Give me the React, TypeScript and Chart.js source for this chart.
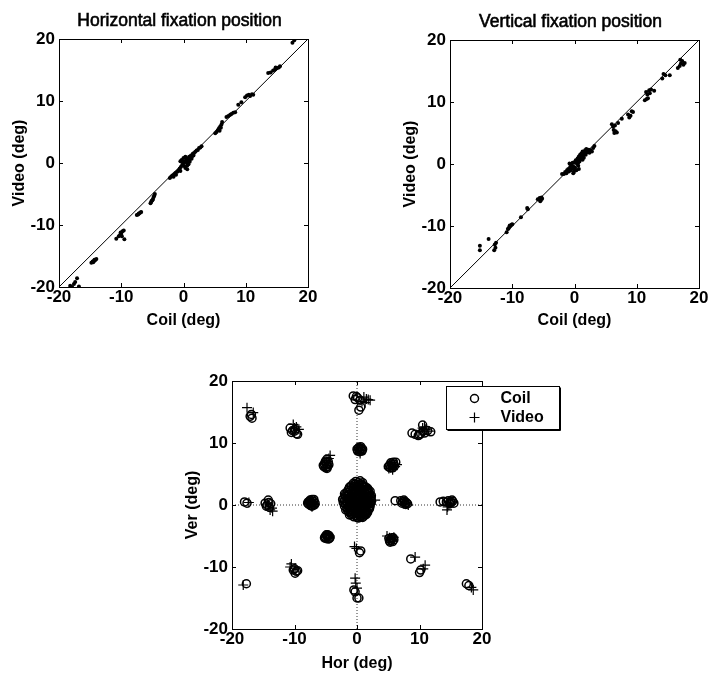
import { useEffect, useRef } from "react";
import { Chart, registerables } from "chart.js";

Chart.register(...registerables);

const FONT = '"Liberation Sans", Arial, Helvetica, sans-serif';

// ---------- text ----------
const horizTitle = "Horizontal fixation position";
const vertTitle = "Vertical fixation position";
const coilAxisLabel = "Coil (deg)";
const videoAxisLabel = "Video (deg)";
const horAxisLabel = "Hor (deg)";
const verAxisLabel = "Ver (deg)";
const coilLabel = "Coil";
const videoLabel = "Video";

// ---------- axes ----------
const tickValues = [-20, -10, 0, 10, 20];
const axisMin = -20;
const axisMax = 20;
const identityLine: [number, number][] = [[-20, -20], [20, 20]];
const zeroHorLine: [number, number][] = [[-20, 0], [20, 0]];
const zeroVerLine: [number, number][] = [[0, -20], [0, 20]];

// ---------- horizontal fixation: [coil, video] ----------
const horizPairs: [number, number][] = [
  [-18.2, -19.8], [-17.6, -19.5], [-17.4, -19.2], [-17.1, -18.6], [-17.9, -20.0], [-16.8, -19.9],
  [-14.8, -16.1], [-14.6, -15.9], [-14.4, -15.8], [-14.2, -15.7], [-14.0, -15.5], [-14.5, -16.0], [-14.3, -15.6],
  [-10.8, -12.2], [-10.4, -11.8], [-10.2, -11.6], [-10.0, -11.4], [-9.8, -11.0], [-9.6, -10.9], [-9.5, -12.3], [-9.9, -11.8], [-10.1, -11.2],
  [-7.5, -8.4], [-7.3, -8.3], [-7.1, -8.1], [-6.9, -8.0], [-6.8, -7.9], [-7.2, -8.2],
  [-5.3, -6.5], [-5.2, -6.3], [-5.0, -6.0], [-4.9, -5.8], [-4.7, -5.3], [-4.6, -5.0], [-5.1, -6.1], [-4.8, -5.5],
  [-2.2, -2.4], [-2.0, -2.2], [-1.8, -2.0], [-1.6, -2.2], [-1.5, -1.8], [-1.3, -1.6], [-1.2, -1.9], [-1.0, -1.4],
  [-0.8, -1.2], [-0.6, -0.9], [-0.5, -1.3], [-0.4, -0.6], [-0.3, 0.5], [-0.2, -0.3], [0.0, 0.0], [0.1, -0.5],
  [0.2, 0.3], [0.3, -0.8], [0.4, 0.8], [0.5, 0.1], [0.6, -1.0], [0.7, 0.5], [0.8, 0.2], [0.9, 1.0],
  [1.0, 0.6], [1.1, 0.9], [1.2, 1.2], [1.4, 1.1], [1.5, 1.5], [1.7, 1.6], [1.9, 1.8], [2.1, 2.0],
  [2.3, 2.1], [2.5, 2.4], [2.7, 2.5], [2.9, 2.7], [-0.5, 0.3], [0.0, 0.8], [0.3, 1.0], [0.6, -0.4],
  [0.8, -0.2], [-0.1, 0.2], [1.3, 0.7], [1.6, 1.2], [0.5, 0.7], [1.0, 0.2],
  [5.1, 4.8], [5.3, 5.0], [5.5, 5.3], [5.7, 5.6], [5.9, 5.9], [6.1, 6.2], [6.2, 6.6], [5.8, 5.2], [6.0, 5.7],
  [6.9, 7.4], [7.2, 7.6], [7.5, 7.8], [7.7, 7.9], [8.0, 8.1], [8.3, 8.2],
  [8.8, 9.4], [9.3, 9.8],
  [9.9, 10.6], [10.2, 10.9], [10.5, 11.0], [10.7, 10.8], [11.0, 11.1], [11.2, 11.0],
  [13.6, 14.5], [14.0, 14.6], [14.4, 14.9], [14.7, 15.1], [15.0, 15.3], [15.3, 15.4], [15.5, 15.6], [14.8, 15.4],
  [17.5, 19.4], [17.8, 19.8],
];

// ---------- vertical fixation: [coil, video] ----------
const vertPairs: [number, number][] = [
  [-15.2, -13.2], [-15.2, -13.9], [-13.8, -12.1], [-12.8, -13.0], [-12.7, -13.5], [-12.9, -13.9], [-12.6, -12.7],
  [-10.9, -11.0], [-10.7, -10.5], [-10.5, -10.2], [-10.3, -10.0], [-10.1, -9.8], [-10.4, -9.9], [-10.6, -10.4], [-10.0, -9.7],
  [-8.6, -8.6], [-7.6, -7.1], [-7.5, -7.3],
  [-5.9, -5.7], [-5.6, -5.5], [-5.4, -5.8], [-5.2, -5.6], [-5.5, -6.0], [-5.3, -5.4],
  [-2.0, -1.6], [-1.7, -1.6], [-1.5, -1.3], [-1.3, -1.5], [-1.2, -1.0], [-1.0, -0.8], [-0.9, -1.2], [-0.7, -0.5],
  [-0.6, -1.0], [-0.5, -0.2], [-0.4, -0.7], [-0.3, 0.2], [-0.2, -0.4], [-0.1, -1.3], [0.0, 0.3], [0.1, -0.6],
  [0.2, 0.6], [0.3, -1.0], [0.4, 0.0], [0.5, 0.9], [0.6, -0.3], [0.7, 1.2], [0.8, 0.4], [0.9, 1.5],
  [1.0, 0.8], [1.1, 1.7], [1.2, 1.1], [1.3, 2.0], [1.4, 1.4], [1.5, 1.0], [1.6, 1.8], [1.7, 2.2],
  [1.8, 1.5], [1.9, 2.4], [2.0, 1.9], [2.1, 2.1], [2.3, 2.3], [2.4, 1.8], [2.6, 2.2], [2.8, 2.0],
  [3.0, 2.6], [3.2, 2.9], [0.0, -0.9], [-0.8, 0.1], [0.3, 0.5], [0.6, 0.2], [1.0, 1.3], [1.3, 0.7],
  [0.7, -0.8], [-0.2, -1.5],
  [6.0, 6.4], [6.2, 6.0], [6.3, 5.5], [6.4, 5.0], [6.6, 5.3], [6.8, 5.1], [6.5, 6.2], [7.0, 6.6],
  [7.6, 7.3],
  [8.6, 8.0], [8.8, 7.5], [9.0, 7.8], [9.2, 8.5], [9.4, 8.4],
  [11.3, 10.3], [11.5, 11.6], [11.7, 11.2], [11.8, 10.6], [12.0, 11.9], [12.3, 12.0], [12.8, 11.8], [11.6, 10.5], [12.1, 11.4],
  [14.1, 13.8], [14.3, 14.5], [14.6, 14.3], [15.3, 14.3],
  [16.6, 15.5], [16.9, 15.8], [17.1, 16.2], [17.3, 16.6], [17.5, 16.0], [17.7, 16.3], [17.0, 16.8],
];

// ---------- 2D fixation: [hor, ver] ----------
const coilPoints: [number, number][] = [
  [-18.0, 0.5], [-17.6, 0.3],
  [-17.1, 14.3], [-16.8, 14.0], [-16.9, 14.6],
  [-17.7, -12.7],
  [-14.7, 0.3], [-14.2, 0.8], [-14.0, -0.4], [-14.4, 0.0], [-13.8, 0.2], [-14.5, -0.2], [-14.1, 0.4],
  [-10.7, 12.4], [-10.3, 12.0], [-10.0, 11.9], [-9.7, 11.5], [-9.5, 11.4], [-10.5, 11.7], [-9.9, 12.2],
  [-10.2, -10.5], [-9.7, -10.7], [-9.9, -11.0], [-9.5, -10.6], [-10.0, -10.3],
  [-7.8, 0.5], [-7.5, 0.8], [-7.2, 0.9], [-6.9, 0.6], [-6.7, 0.3], [-7.0, 0.0], [-7.4, -0.1], [-7.7, 0.1],
  [-7.3, 0.4], [-7.1, 0.3], [-7.5, 0.3], [-7.9, 0.3], [-6.8, 0.0], [-7.2, -0.2], [-7.6, 0.6], [-6.9, 0.9],
  [-5.3, 6.2], [-5.0, 6.0], [-4.7, 6.2], [-5.2, 6.6], [-4.9, 6.6], [-4.6, 7.0], [-4.8, 7.4], [-5.1, 6.9], [-4.5, 6.5],
  [-5.4, 6.4], [-4.8, 5.9], [-5.0, 7.1],
  [-5.1, -5.1], [-4.9, -4.8], [-4.5, -4.9], [-4.3, -5.2], [-4.6, -5.5], [-5.0, -5.4], [-4.7, -5.2], [-4.8, -5.0],
  [-5.2, -5.3], [-4.4, -5.4], [-4.7, -4.8],
  [-0.6, 17.6], [-0.3, 17.0], [0.1, 17.3], [0.5, 16.9], [-0.1, 17.5], [0.3, 15.3], [0.6, 15.8],
  [0.0, 9.0], [0.3, 9.3], [0.7, 9.1], [0.8, 8.7], [0.4, 8.6], [0.1, 8.7], [0.5, 9.0], [0.6, 9.4], [0.2, 9.1], [0.9, 9.0],
  [-0.2, 3.8], [0.5, 3.9],
  [-0.9, 3.1], [0.1, 3.3], [0.9, 3.2], [1.4, 2.9],
  [-1.3, 2.6], [-0.6, 2.7], [0.3, 2.6], [1.0, 2.5], [1.8, 2.4],
  [-1.6, 2.0], [-0.9, 1.9], [-0.2, 2.1], [0.6, 2.0], [1.3, 1.9], [2.0, 1.8],
  [-1.8, 1.4], [-1.1, 1.3], [-0.4, 1.5], [0.2, 1.3], [0.9, 1.4], [1.6, 1.3], [2.1, 1.1],
  [-2.0, 0.7], [-1.3, 0.8], [-0.7, 0.9], [0.0, 0.8], [0.6, 0.7], [1.2, 0.8], [1.9, 0.6],
  [-1.8, 0.1], [-1.0, 0.2], [-0.3, 0.3], [0.4, 0.1], [1.0, 0.2], [1.7, 0.0], [2.2, 0.3],
  [-1.6, -0.5], [-0.8, -0.4], [0.0, -0.3], [0.7, -0.5], [1.4, -0.4], [2.0, -0.6],
  [-1.3, -1.1], [-0.5, -1.0], [0.3, -1.1], [1.0, -0.9], [1.7, -1.2],
  [-0.9, -1.6], [-0.1, -1.7], [0.6, -1.5], [1.3, -1.6],
  [0.2, -2.1], [0.9, -2.0],
  [-0.6, 3.5], [0.2, 3.6], [0.9, 3.6],
  [-1.2, 2.9], [-0.4, 3.0], [0.5, 2.9], [1.2, 2.8], [1.7, 2.7],
  [-1.5, 2.3], [-0.6, 2.3], [0.1, 2.4], [0.8, 2.3], [1.5, 2.2], [2.1, 2.2],
  [-2.0, 1.8], [-1.3, 1.7], [-0.6, 1.7], [0.2, 1.8], [0.9, 1.8], [1.7, 1.6], [2.3, 1.5],
  [-2.1, 1.1], [-1.5, 1.1], [-0.8, 1.2], [-0.1, 1.1], [0.5, 1.0], [1.3, 1.1], [1.9, 1.0],
  [-2.2, 0.4], [-1.6, 0.5], [-1.0, 0.5], [-0.4, 0.6], [0.3, 0.5], [0.9, 0.5], [1.5, 0.5], [2.3, 0.7],
  [-2.0, -0.2], [-1.3, -0.1], [-0.6, 0.0], [0.2, -0.1], [0.8, -0.1], [1.5, -0.1], [2.1, -0.2],
  [-1.8, -0.8], [-1.1, -0.7], [-0.3, -0.7], [0.4, -0.8], [1.1, -0.6], [1.8, -0.8],
  [-1.0, -1.3], [-0.3, -1.4], [0.5, -1.3], [1.2, -1.3], [1.5, -1.5],
  [-0.5, -1.9], [0.5, -1.9], [1.1, -1.8],
  [-0.4, 3.3], [0.7, 3.4], [1.1, 3.0], [-1.0, 2.4], [0.0, 2.8], [1.5, 2.5], [-1.9, 1.6], [-0.3, 2.4],
  [0.5, 2.2], [1.9, 2.0], [-1.5, 1.4], [-0.5, 1.9], [0.4, 1.6], [1.1, 1.6], [2.2, 1.3], [-2.3, 0.9],
  [-1.1, 1.0], [0.2, 0.9], [0.8, 1.1], [1.6, 0.9], [-1.9, 0.3], [-0.8, 0.6], [0.1, 0.3], [1.2, 0.4],
  [2.0, 0.2], [-1.4, -0.3], [-0.4, -0.2], [0.5, -0.3], [1.2, -0.2], [1.9, -0.4], [-1.5, -0.9], [-0.7, -0.8],
  [0.1, -0.6], [0.8, -0.8], [1.5, -0.9], [-0.7, -1.4], [0.1, -1.3], [0.9, -1.4], [0.0, -2.0], [0.7, -1.8],
  [1.4, -1.2], [-1.2, -1.6],
  [0.4, -7.7], [0.6, -7.4],
  [-0.5, -13.7], [0.0, -15.0], [0.3, -15.0], [-0.3, -14.0],
  [5.0, 6.2], [5.3, 6.0], [5.6, 6.3], [5.9, 6.6], [6.2, 6.9], [5.5, 6.6], [5.8, 6.9], [5.2, 6.4], [6.0, 6.3],
  [5.4, 6.8], [5.7, 6.0],
  [6.1, 0.7], [7.0, 0.7], [7.3, 0.5], [7.6, 0.6], [7.9, 0.4], [8.1, 0.2], [7.5, 0.8], [7.8, 0.1], [7.2, 0.3], [7.7, 0.3],
  [5.1, -5.4], [5.4, -5.7], [5.7, -5.9], [5.6, -5.3], [5.3, -6.0], [5.9, -5.6], [5.5, -5.5], [5.2, -5.8], [5.8, -5.3],
  [8.8, 11.6], [9.3, 11.4], [9.8, 11.2], [10.2, 11.5], [10.5, 12.9], [10.8, 11.6], [11.3, 12.0], [11.8, 11.8], [10.0, 11.3], [10.6, 11.9],
  [8.6, -8.7],
  [10.0, -10.9], [10.2, -10.5],
  [13.3, 0.5], [13.8, 0.6], [14.3, 0.5], [14.8, 0.4], [15.3, 0.6], [15.5, 0.3], [14.6, 0.7], [15.0, 0.5], [14.9, 0.2], [15.2, 0.8],
  [17.5, -12.7], [17.9, -13.0],
];

const videoPoints: [number, number][] = [
  [-17.3, 0.4],
  [-17.6, 15.7], [-16.6, 14.9],
  [-18.2, -12.9],
  [-13.9, -0.8], [-14.2, 0.0], [-13.6, -0.5], [-13.5, -1.0],
  [-10.2, 13.0], [-9.7, 12.6], [-9.3, 12.2], [-10.0, 12.4],
  [-10.7, -10.0], [-10.5, -9.5], [-9.9, -10.2],
  [-7.2, -0.3], [-7.0, 0.5], [-6.8, 0.1], [-7.6, 0.2],
  [-4.3, 8.0], [-4.5, 7.5], [-4.9, 6.8], [-5.0, 6.1],
  [-4.6, -5.3], [-4.4, -5.0], [-4.9, -5.2],
  [1.1, 17.4], [1.5, 17.1], [1.8, 17.0], [2.1, 16.9], [0.8, 16.7], [1.3, 16.5],
  [0.5, 8.3], [0.2, 9.0], [0.8, 8.8],
  [-1.5, 0.4], [-0.7, 2.4], [0.4, 3.5], [1.4, 2.6], [2.3, 0.6], [2.9, 0.8], [1.2, -1.3], [0.0, -1.4], [-1.0, -0.3],
  [0.5, 1.1], [-0.4, 0.2], [0.9, 0.4], [0.2, -0.4], [1.1, 1.8], [-1.2, 1.5], [1.8, -0.3], [0.3, 2.0], [-0.2, -0.9],
  [-0.4, -6.7], [-0.1, -7.0],
  [-0.3, -11.8], [0.0, -13.4], [-0.2, -12.6],
  [5.1, 5.9], [5.4, 6.0], [6.4, 6.5], [5.7, 5.7], [6.1, 6.2],
  [7.7, 0.3], [8.2, 0.0], [7.4, 0.2],
  [4.8, -5.0], [5.2, -5.3], [5.9, -5.2], [5.6, -5.6],
  [10.8, 12.6], [11.0, 12.2], [11.5, 11.9], [10.5, 12.4],
  [9.3, -8.4],
  [10.9, -9.7], [10.6, -10.3],
  [14.4, -0.8], [14.7, 0.0], [15.0, 0.3], [14.5, -0.3],
  [18.6, -13.7], [18.3, -13.3],
];

const toXY = (arr: [number, number][]) => arr.map(([x, y]) => ({ x, y }));

// ---------- plugins ----------
const framePlugin = {
  id: "frameTicks",
  afterDraw(chart: any) {
    const { ctx, chartArea } = chart;
    const { left, right, top, bottom } = chartArea;
    const xs = chart.scales.x;
    const ys = chart.scales.y;
    const len = 4;
    ctx.save();
    ctx.strokeStyle = "#000";
    ctx.lineWidth = 1;
    ctx.strokeRect(Math.round(left) + 0.5, Math.round(top) + 0.5, Math.round(right - left), Math.round(bottom - top));
    ctx.beginPath();
    tickValues.forEach((v) => {
      const px = Math.round(xs.getPixelForValue(v)) + 0.5;
      ctx.moveTo(px, bottom);
      ctx.lineTo(px, bottom - len);
      ctx.moveTo(px, top);
      ctx.lineTo(px, top + len);
      const py = Math.round(ys.getPixelForValue(v)) + 0.5;
      ctx.moveTo(left, py);
      ctx.lineTo(left + len, py);
      ctx.moveTo(right, py);
      ctx.lineTo(right - len, py);
    });
    ctx.stroke();
    ctx.restore();
  },
};

const panelTitlePlugin = {
  id: "panelTitle",
  afterDraw(chart: any, _args: any, opts: any) {
    if (!opts || !opts.text) return;
    const { ctx, chartArea } = chart;
    const x = (chartArea.left + chartArea.right) / 2 + (opts.dx || 0);
    ctx.save();
    ctx.fillStyle = "#000";
    ctx.strokeStyle = "#000";
    ctx.lineWidth = 0.6;
    ctx.font = `normal ${opts.size || 17}px ${FONT}`;
    ctx.textAlign = "center";
    ctx.textBaseline = "middle";
    ctx.fillText(opts.text, x, opts.y);
    ctx.strokeText(opts.text, x, opts.y);
    ctx.restore();
  },
};

const boxLegendPlugin = {
  id: "boxLegend",
  afterDraw(chart: any, _args: any, opts: any) {
    if (!opts || !opts.display) return;
    const { ctx, chartArea } = chart;
    const x0 = Math.round(chartArea.right - 36) + 0.5;
    const y0 = Math.round(chartArea.top + 5) + 0.5;
    const w = 113;
    const h = 43;
    ctx.save();
    ctx.fillStyle = "#fff";
    ctx.fillRect(x0, y0, w, h);
    ctx.strokeStyle = "#000";
    ctx.lineWidth = 1;
    ctx.strokeRect(x0, y0, w, h);
    ctx.beginPath();
    ctx.moveTo(x0 + w + 1, y0 + 1);
    ctx.lineTo(x0 + w + 1, y0 + h + 1);
    ctx.lineTo(x0 + 1, y0 + h + 1);
    ctx.stroke();
    const items = chart.data.datasets.filter((d: any) => d.inLegend);
    items.forEach((d: any, i: number) => {
      const cy = y0 + 12 + i * 19;
      const cx = x0 + 28;
      ctx.lineWidth = d.pointBorderWidth || 1;
      ctx.beginPath();
      if (d.pointStyle === "circle") {
        ctx.arc(cx, cy, 4, 0, Math.PI * 2);
      } else {
        ctx.moveTo(cx - 5, cy);
        ctx.lineTo(cx + 5, cy);
        ctx.moveTo(cx, cy - 5);
        ctx.lineTo(cx, cy + 5);
      }
      ctx.stroke();
      ctx.fillStyle = "#000";
      ctx.font = `bold 16px ${FONT}`;
      ctx.textAlign = "left";
      ctx.textBaseline = "middle";
      ctx.fillText(d.label, x0 + 54, cy);
    });
    ctx.restore();
  },
};

function scaleCfg(axis: "x" | "y", label: string, fit: number, titlePad: number) {
  return {
    type: "linear",
    min: axisMin,
    max: axisMax,
    grid: { display: false, drawTicks: false },
    border: { display: false },
    afterBuildTicks: (s: any) => {
      s.ticks = tickValues.map((v) => ({ value: v }));
    },
    afterFit: (s: any) => {
      if (axis === "x") s.height = fit;
      else s.width = fit;
    },
    ticks: {
      color: "#000",
      font: { family: FONT, size: 17, weight: "bold" },
      padding: axis === "x" ? 0 : 4,
      maxRotation: 0,
      autoSkip: false,
      callback: (v: any) => String(v),
    },
    title: {
      display: true,
      text: label,
      color: "#000",
      font: { family: FONT, size: 16, weight: "bold" },
      padding: axis === "x" ? { top: 0, bottom: titlePad } : { top: titlePad, bottom: 0 },
    },
  };
}

type PanelProps = {
  left: number;
  top: number;
  width: number;
  height: number;
  build: () => any;
};

function Panel({ left, top, width, height, build }: PanelProps) {
  const ref = useRef<HTMLCanvasElement | null>(null);
  useEffect(() => {
    if (!ref.current) return;
    const chart = new Chart(ref.current, build());
    return () => chart.destroy();
  }, []);
  return (
    <canvas
      ref={ref}
      width={width}
      height={height}
      style={{ position: "absolute", left, top, width, height }}
    />
  );
}

function diagonalConfig(pairs: [number, number][], title: string, yFit: number, yTitlePad: number, xTitlePad: number, padRight: number, padTop: number, titleY: number, xFit: number) {
  return {
    type: "scatter",
    data: {
      datasets: [
        {
          label: "data",
          data: toXY(pairs),
          pointRadius: 2,
          pointBackgroundColor: "#000",
          pointBorderWidth: 0,
          order: 1,
        },
        {
          label: "identity",
          data: toXY(identityLine),
          showLine: true,
          borderColor: "#000",
          borderWidth: 1,
          pointRadius: 0,
          order: 2,
        },
      ],
    },
    options: {
      responsive: false,
      animation: false,
      devicePixelRatio: 1,
      layout: { padding: { top: padTop, right: padRight, bottom: 0, left: 0 } },
      scales: {
        x: scaleCfg("x", coilAxisLabel, xFit, xTitlePad),
        y: scaleCfg("y", videoAxisLabel, yFit, yTitlePad),
      },
      plugins: {
        legend: { display: false },
        tooltip: { enabled: false },
        panelTitle: { text: title, y: titleY, dx: -4, size: 17.5 },
      },
    },
    plugins: [framePlugin, panelTitlePlugin],
  };
}

function bottomConfig() {
  return {
    type: "scatter",
    data: {
      datasets: [
        {
          label: coilLabel,
          inLegend: true,
          data: toXY(coilPoints),
          pointStyle: "circle",
          pointRadius: 4,
          pointBackgroundColor: "rgba(0,0,0,0)",
          pointBorderColor: "#000",
          pointBorderWidth: 1.5,
          order: 1,
        },
        {
          label: videoLabel,
          inLegend: true,
          data: toXY(videoPoints),
          pointStyle: "cross",
          pointRadius: 5,
          pointBorderColor: "#000",
          pointBorderWidth: 1.2,
          order: 2,
        },
        {
          label: "zeroH",
          data: toXY(zeroHorLine),
          showLine: true,
          borderColor: "#333",
          borderWidth: 1,
          borderDash: [1, 2],
          pointRadius: 0,
          order: 3,
        },
        {
          label: "zeroV",
          data: toXY(zeroVerLine),
          showLine: true,
          borderColor: "#333",
          borderWidth: 1,
          borderDash: [1, 2],
          pointRadius: 0,
          order: 3,
        },
      ],
    },
    options: {
      responsive: false,
      animation: false,
      devicePixelRatio: 1,
      layout: { padding: { top: 21, right: 98, bottom: 0, left: 0 } },
      scales: {
        x: scaleCfg("x", horAxisLabel, 45, 1),
        y: scaleCfg("y", verAxisLabel, 72, 23),
      },
      plugins: {
        legend: { display: false },
        tooltip: { enabled: false },
        boxLegend: { display: true },
      },
    },
    plugins: [framePlugin, boxLegendPlugin],
  };
}

export default function App() {
  return (
    <div
      style={{
        position: "absolute",
        left: 0,
        top: 0,
        width: 710,
        height: 674,
        background: "#fff",
        overflow: "hidden",
      }}
    >
      <Panel
        left={0}
        top={0}
        width={350}
        height={335}
        build={() => diagonalConfig(horizPairs, horizTitle, 59, 10, 5, 42, 39, 21, 48)}
      />
      <Panel
        left={390}
        top={0}
        width={320}
        height={336}
        build={() => diagonalConfig(vertPairs, vertTitle, 60, 11, 6, 11, 40, 22, 48)}
      />
      <Panel left={160} top={360} width={420} height={314} build={bottomConfig} />
    </div>
  );
}
